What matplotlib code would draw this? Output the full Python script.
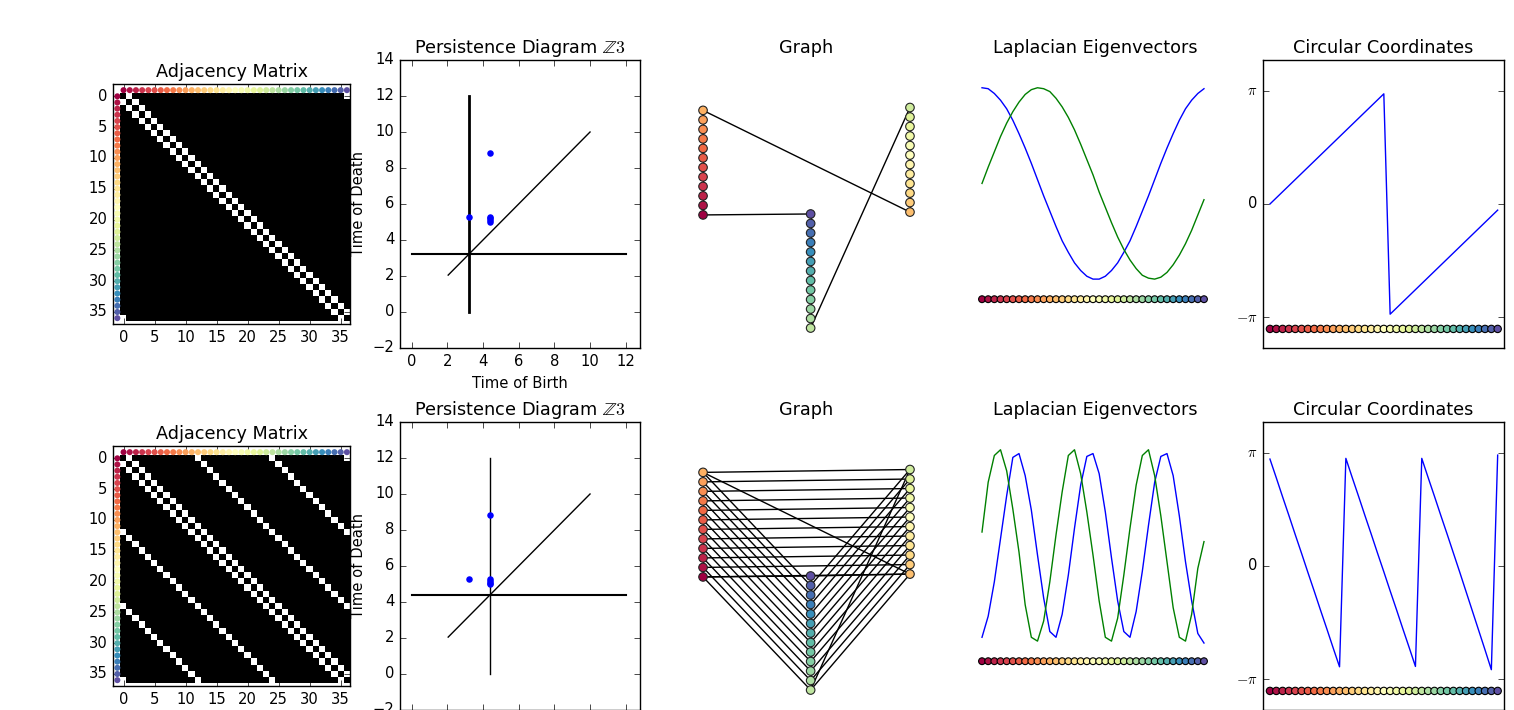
import numpy as np
import matplotlib
matplotlib.use("Agg")
import matplotlib.pyplot as plt

plt.style.use("classic")
plt.rcParams["font.family"] = ["DejaVu Sans"]
plt.rcParams["font.size"] = 10.6
plt.rcParams["mathtext.fontset"] = "cm"

W, H = 1514, 710
ROW = 362  # vertical offset of the second row, px

n_nodes = 37
# graph definitions: cycle plus skip edges
top_offsets = [1]
bottom_offsets = [1, 12, 24]

# node layout of the drawn graph (same for both rows)
layout_x = [0.0] * 12 + [1.0] * 12 + [0.52] * 13
layout_y = [0, 1, 2, 3, 4, 5, 6, 7, 8, 9, 10, 11,
            0.3, 1.3, 2.3, 3.3, 4.3, 5.3, 6.3, 7.3, 8.3, 9.3, 10.3, 11.3,
            -11.9, -10.9, -9.9, -8.9, -7.9, -6.9, -5.9, -4.9, -3.9, -2.9, -1.9, -0.9, 0.1]

# persistence diagrams
top_birth = [3.22, 4.38, 4.38, 4.38, 4.38, 4.38]
top_death = [5.28, 8.85, 5.30, 5.20, 5.10, 5.00]
top_thresh = 3.22
bot_birth = [3.20, 4.37, 4.37, 4.37, 4.37, 4.37]
bot_death = [5.27, 8.83, 5.28, 5.18, 5.08, 4.98]
bot_thresh = 4.37

# laplacian eigenvectors
top_ev1 = [1.00, 0.99, 0.94, 0.87, 0.78, 0.66, 0.52, 0.37, 0.21, 0.04, -0.13, -0.29, -0.45,
           -0.60, -0.72, -0.83, -0.91, -0.97, -1.00, -1.00, -0.97, -0.91, -0.83, -0.72, -0.60,
           -0.45, -0.29, -0.13, 0.04, 0.21, 0.37, 0.52, 0.66, 0.78, 0.87, 0.94, 0.99]
top_ev2 = [0.00, 0.17, 0.33, 0.49, 0.63, 0.75, 0.85, 0.93, 0.98, 1.00, 0.99, 0.96, 0.89,
           0.80, 0.69, 0.56, 0.41, 0.25, 0.09, -0.09, -0.25, -0.41, -0.56, -0.69, -0.80,
           -0.89, -0.96, -0.99, -1.00, -0.98, -0.93, -0.85, -0.75, -0.63, -0.49, -0.33, -0.17]
bot_ev1 = [-0.96, -0.74, -0.38, 0.07, 0.52, 0.92, 0.96, 0.73, 0.37, -0.10, -0.55, -0.90, -0.96,
           -0.72, -0.31, 0.18, 0.63, 0.93, 0.96, 0.75, 0.35, -0.13, -0.58, -0.90, -0.96,
           -0.69, -0.27, 0.21, 0.66, 0.93, 0.96, 0.73, 0.31, -0.17, -0.58, -0.92, -1.02]
bot_ev2 = [0.14, 0.66, 0.94, 1.00, 0.78, 0.38, -0.07, -0.62, -0.96, -1.00, -0.79, -0.38, 0.11,
           0.56, 0.94, 1.00, 0.75, 0.35, -0.10, -0.58, -0.96, -1.00, -0.76, -0.31, 0.18,
           0.63, 0.94, 1.00, 0.73, 0.31, -0.17, -0.65, -0.96, -1.00, -0.72, -0.24, 0.04]

# circular coordinates
top_theta = [0.00, 0.17, 0.34, 0.51, 0.68, 0.85, 1.02, 1.19, 1.36, 1.53, 1.70, 1.87, 2.04,
             2.21, 2.38, 2.55, 2.72, 2.89, 3.06, -3.06, -2.89, -2.72, -2.55, -2.38, -2.21,
             -2.04, -1.87, -1.70, -1.53, -1.36, -1.19, -1.02, -0.85, -0.68, -0.51, -0.34, -0.17]
bot_theta = [2.97, 2.45, 1.92, 1.40, 0.87, 0.35, -0.18, -0.70, -1.23, -1.75, -2.28, -2.80, 2.99,
             2.46, 1.94, 1.41, 0.89, 0.36, -0.16, -0.69, -1.21, -1.74, -2.26, -2.79, 2.99,
             2.46, 1.94, 1.41, 0.89, 0.36, -0.17, -0.71, -1.25, -1.79, -2.33, -2.88, 3.08]

idx = np.arange(n_nodes)
colors = plt.cm.Spectral(np.linspace(0, 1, n_nodes))

fig = plt.figure(figsize=(W / 100, H / 100), dpi=100)
fig.patch.set_facecolor("white")


def place(l, t, r, b, dy):
    return fig.add_axes([l / W, 1 - (b + dy) / H, (r - l) / W, (b - t) / H])


def edge_list(offsets):
    edges = []
    for off in offsets:
        for i in range(n_nodes - off):
            edges.append((i, i + off))
    edges.append((0, n_nodes - 1))
    return edges


def draw_row(dy, offsets, birth, death, thresh, vlw, ev1, ev2, theta):
    edges = edge_list(offsets)
    A = np.zeros((n_nodes, n_nodes))
    for i, j in edges:
        A[i, j] = 1
        A[j, i] = 1

    # adjacency matrix
    ax = place(113, 84, 350, 324, dy)
    ax.imshow(A, cmap="gray", interpolation="nearest")
    ax.scatter(idx, -np.ones(n_nodes), s=19, c=colors, lw=0, zorder=3)
    ax.scatter(-np.ones(n_nodes), idx, s=19, c=colors, lw=0, zorder=3)
    ax.set_xlim(-1.7, 36.5)
    ax.set_ylim(36.95, -2.0)
    ax.set_aspect("auto")
    ax.set_xticks([0, 5, 10, 15, 20, 25, 30, 35])
    ax.set_yticks([0, 5, 10, 15, 20, 25, 30, 35])
    ax.set_title("Adjacency Matrix")

    # persistence diagram
    ax = place(400, 60, 640, 348, dy)
    ax.plot([thresh, thresh], [0, 12], "k", lw=vlw)
    ax.plot([0, 12], [thresh, thresh], "k", lw=1.5)
    ax.plot([2.05, 10], [2.05, 10], "k", lw=1)
    ax.scatter(birth, death, s=22, c="b", lw=0, zorder=3)
    ax.set_xlim(-0.65, 12.8)
    ax.set_ylim(-2, 14)
    ax.set_xticks([0, 2, 4, 6, 8, 10, 12])
    ax.set_title(r"Persistence Diagram $\mathbb{Z}3$")
    ax.set_xlabel("Time of Birth")
    ax.set_ylabel("Time of Death")

    # graph
    ax = place(690, 60, 923, 348, dy)
    for i, j in edges:
        ax.plot([layout_x[i], layout_x[j]], [layout_y[i], layout_y[j]], "k", lw=1, zorder=1)
    ax.scatter(layout_x, layout_y, s=38, c=colors, edgecolors="#222222", lw=0.8, zorder=3)
    ax.set_xlim(-0.063, 1.063)
    ax.set_ylim(-14.0, 16.3)
    ax.axis("off")
    ax.set_title("Graph")

    # laplacian eigenvectors
    ax = place(978, 60, 1212, 348, dy)
    ax.plot(idx, ev1, "b", lw=1)
    ax.plot(idx, ev2, "g", lw=1)
    ax.scatter(idx, np.full(n_nodes, -1.21), s=24, c=colors, edgecolors="k", lw=0.8, zorder=3)
    ax.set_xlim(-0.65, 37.3)
    ax.set_ylim(-1.72, 1.29)
    ax.axis("off")
    ax.set_title("Laplacian Eigenvectors")

    # circular coordinates
    ax = place(1263, 60, 1504, 348, dy)
    ax.plot(idx, theta, "b", lw=1)
    ax.scatter(idx, np.full(n_nodes, -3.47), s=28, c=colors, edgecolors="k", lw=0.8, zorder=3)
    ax.set_xlim(-1.1, 37.0)
    ax.set_ylim(-4, 4)
    ax.set_xticks([])
    ax.set_yticks([-np.pi, 0, np.pi])
    ax.set_yticklabels([r"$-\pi$", "0", r"$\pi$"])
    ax.set_title("Circular Coordinates")


draw_row(0, top_offsets, top_birth, top_death, top_thresh, 2.0, top_ev1, top_ev2, top_theta)
draw_row(ROW, bottom_offsets, bot_birth, bot_death, bot_thresh, 1.0, bot_ev1, bot_ev2, bot_theta)

fig.savefig("out.png", dpi=100, facecolor="white")
